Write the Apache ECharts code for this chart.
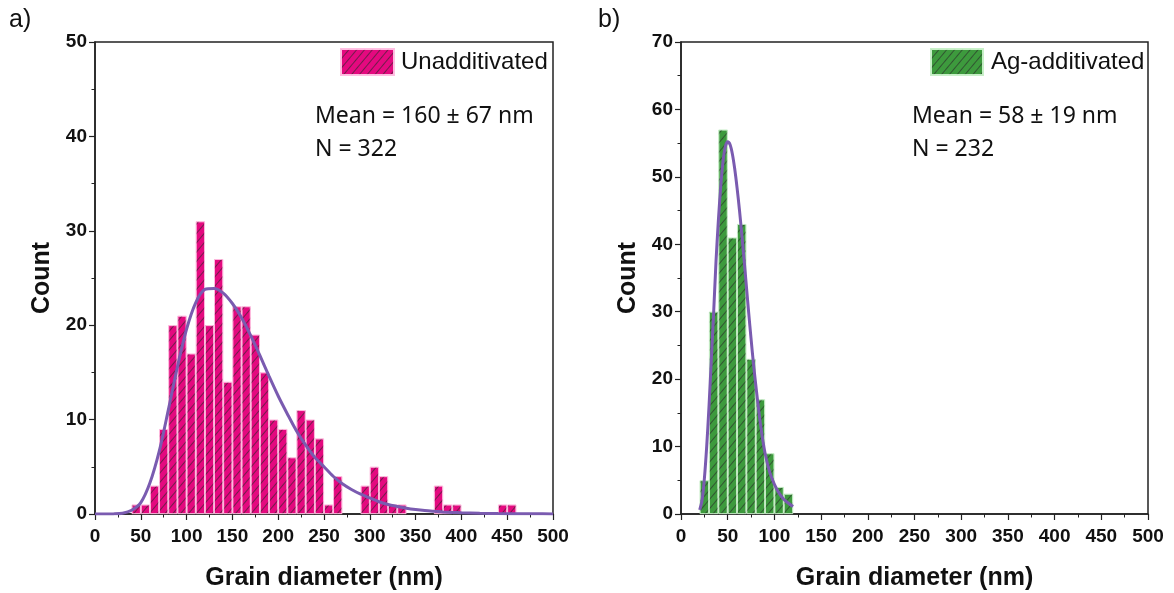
<!DOCTYPE html>
<html>
<head>
<meta charset="utf-8">
<script src="https://cdn.jsdelivr.net/npm/echarts@6/dist/echarts.min.js"></script>
<style>
html,body{margin:0;padding:0;background:#fff;}
#chart{width:1174px;height:593px;}
</style>
</head>
<body>
<div id="chart"></div>
<script>
// ---- data ----
const binStarts = [0,10,20,30,40,50,60,70,80,90,100,110,120,130,140,150,160,170,180,190,
  200,210,220,230,240,250,260,270,280,290,300,310,320,330,340,350,360,370,380,390,
  400,410,420,430,440,450,460,470,480,490];
const unaddCounts = [0,0,0,0,1,1,3,9,20,21,17,31,20,27,14,22,22,19,15,10,
  9,6,11,10,8,1,4,0,0,3,5,4,1,1,0,0,0,3,1,1,
  0,0,0,0,1,1,0,0,0,0];
const agCounts = [0,0,5,30,57,41,43,23,17,9,4,3,0,0,0,0,0,0,0,0,
  0,0,0,0,0,0,0,0,0,0,0,0,0,0,0,0,0,0,0,0,
  0,0,0,0,0,0,0,0,0,0];
const unaddFitX = [0,10,20,30,40,50,60,70,80,90,100,110,120,130,140,150,160,170,180,190,200,210,220,230,240,250,260,270,280,290,300,310,320,330,340,350,360,370,380,390,400,420,440,460,480,500];
const unaddFitY = [0,0,0.01,0.08,0.4,1.2,3.3,6.6,11,15.6,19.6,22.4,23.8,23.9,23.4,22.3,20.8,18.9,16.8,14.6,12.5,10.6,8.8,7.3,6,5,4,3.2,2.6,2.1,1.7,1.3,1,0.8,0.62,0.48,0.37,0.29,0.22,0.17,0.13,0.08,0.05,0.03,0.02,0.01];
const agFitX = [20,22.5,25,27.5,30,32.5,35,37.5,40,42.5,45,47.5,50,52.5,55,57.5,60,62.5,65,67.5,70,72.5,75,77.5,80,85,90,95,100,105,110,115,120];
const agFitY = [0.6,2,5.2,10,16,23,30,37.5,43.5,48.5,52.3,54.5,55.2,54.8,53.4,51.2,48.4,45.2,41.6,37.8,33.8,29.8,26,22.4,19.2,13.4,9,6.2,4.4,3.1,2.2,1.6,1.1];
const xTicks = [0,50,100,150,200,250,300,350,400,450,500];
const yTicksA = [0,10,20,30,40,50];
const yTicksB = [0,10,20,30,40,50,60,70];
const seriesNames = ['Unadditivated','Ag-additivated'];
const statsA = ['Mean = 160 \u00b1 67 nm','N = 322'];
const statsB = ['Mean = 58 \u00b1 19 nm','N = 232'];

// ---- styling ----
const PINK = '#E4097F';
const GREEN = '#3D9A3D';
const PURPLE = '#7A5BB0';
const AXIS = '#222';
const hatch = {
  symbol: 'rect', symbolSize: 1,
  color: 'rgba(40,40,40,0.6)',
  dashArrayX: [1, 0],
  dashArrayY: [0.8, 5],
  rotation: -Math.PI / 3.6
};
const labelFont = {fontFamily: 'Liberation Sans, Arial', fontWeight: 'bold', fontSize: 19, color: '#111'};
const nameFont = {fontFamily: 'Liberation Sans, Arial', fontWeight: 'bold', fontSize: 25, color: '#111'};

function pairs(xs, ys){ return xs.map((x,i)=>[x, ys[i]]); }
function nz(arr){ return arr.map(v => v === 0 ? '-' : v); }

const grids = [
  {left: 95, top: 42, width: 458, height: 472, show: true, borderColor: AXIS, borderWidth: 1.5, backgroundColor: 'transparent', containLabel: false, outerBoundsMode: 'none'},
  {left: 681, top: 42, width: 467, height: 472, show: true, borderColor: AXIS, borderWidth: 1.5, backgroundColor: 'transparent', containLabel: false, outerBoundsMode: 'none'}
];

function catAxis(g){
  return {type: 'category', gridIndex: g, position: 'bottom', data: binStarts, boundaryGap: true, show: false};
}
function valXAxis(g){
  return {
    type: 'value', gridIndex: g, position: 'bottom', min: xTicks[0], max: xTicks[xTicks.length-1], interval: xTicks[1]-xTicks[0],
    name: 'Grain diameter (nm)', nameLocation: 'middle', nameGap: 52, nameTextStyle: nameFont,
    axisLine: {show: true, onZero: false, lineStyle: {color: AXIS, width: 1.5}},
    axisTick: {show: true, inside: false, length: 6, lineStyle: {color: AXIS, width: 1.2}},
    minorTick: {show: true, splitNumber: 2, length: 3.5, lineStyle: {color: AXIS, width: 1}},
    axisLabel: Object.assign({margin: 13, showMaxLabel: true}, labelFont),
    splitLine: {show: false}
  };
}
function valYAxis(g, ticks){
  return {
    type: 'value', gridIndex: g, position: 'left', min: ticks[0], max: ticks[ticks.length-1], interval: ticks[1]-ticks[0],
    name: 'Count', nameLocation: 'middle', nameGap: 40, nameTextStyle: nameFont,
    axisLine: {show: true, lineStyle: {color: AXIS, width: 1.5}},
    axisTick: {show: true, inside: false, length: 6, lineStyle: {color: AXIS, width: 1.2}},
    minorTick: {show: true, splitNumber: 2, length: 3.5, lineStyle: {color: AXIS, width: 1}},
    axisLabel: Object.assign({margin: 8}, labelFont),
    splitLine: {show: false}
  };
}

const option = {
  animation: false,
  backgroundColor: '#fff',
  grid: grids,
  xAxis: [catAxis(0), valXAxis(0), catAxis(1), valXAxis(1)],
  yAxis: [valYAxis(0, yTicksA), valYAxis(1, yTicksB)],
  legend: [
    {data: [seriesNames[0]], left: 340, top: 48, padding: 0, itemWidth: 53, itemHeight: 26, icon: 'rect',
     textStyle: {fontFamily: 'Liberation Sans, Arial', fontSize: 24, color: '#111', padding: [0,0,0,2]}},
    {data: [seriesNames[1]], left: 930, top: 48, padding: 0, itemWidth: 52, itemHeight: 26, icon: 'rect',
     textStyle: {fontFamily: 'Liberation Sans, Arial', fontSize: 24, color: '#111', padding: [0,0,0,3]}}
  ],
  graphic: [
    {type: 'text', left: 9, top: 8, style: {text: 'a)', font: '25px "Liberation Sans", Arial', fill: '#111'}},
    {type: 'text', left: 598, top: 8, style: {text: 'b)', font: '25px "Liberation Sans", Arial', fill: '#111'}},
    {type: 'text', left: 315, top: 105, style: {text: statsA[0], font: '23px "Noto Sans"', fill: '#111'}},
    {type: 'text', left: 315, top: 138, style: {text: statsA[1], font: '23px "Noto Sans"', fill: '#111'}},
    {type: 'text', left: 912, top: 105, style: {text: statsB[0], font: '23px "Noto Sans"', fill: '#111'}},
    {type: 'text', left: 912, top: 138, style: {text: statsB[1], font: '23px "Noto Sans"', fill: '#111'}}
  ],
  series: [
    {name: seriesNames[0], type: 'bar', xAxisIndex: 0, yAxisIndex: 0, data: nz(unaddCounts),
     barWidth: '100%', barCategoryGap: '0%',
     itemStyle: {color: PINK, borderColor: 'rgba(255,190,225,0.9)', borderWidth: 0.8, decal: hatch}},
    {name: 'fitA', type: 'line', xAxisIndex: 1, yAxisIndex: 0, data: pairs(unaddFitX, unaddFitY),
     smooth: 0.3, showSymbol: false, z: 5, lineStyle: {color: PURPLE, width: 3}},
    {name: seriesNames[1], type: 'bar', xAxisIndex: 2, yAxisIndex: 1, data: nz(agCounts),
     barWidth: '100%', barCategoryGap: '0%',
     itemStyle: {color: GREEN, borderColor: 'rgba(200,240,200,0.9)', borderWidth: 0.8, decal: hatch}},
    {name: 'fitB', type: 'line', xAxisIndex: 3, yAxisIndex: 1, data: pairs(agFitX, agFitY),
     smooth: 0.3, showSymbol: false, z: 5, lineStyle: {color: PURPLE, width: 3}}
  ]
};

const chart = echarts.init(document.getElementById('chart'));
chart.setOption(option);
</script>
</body>
</html>
